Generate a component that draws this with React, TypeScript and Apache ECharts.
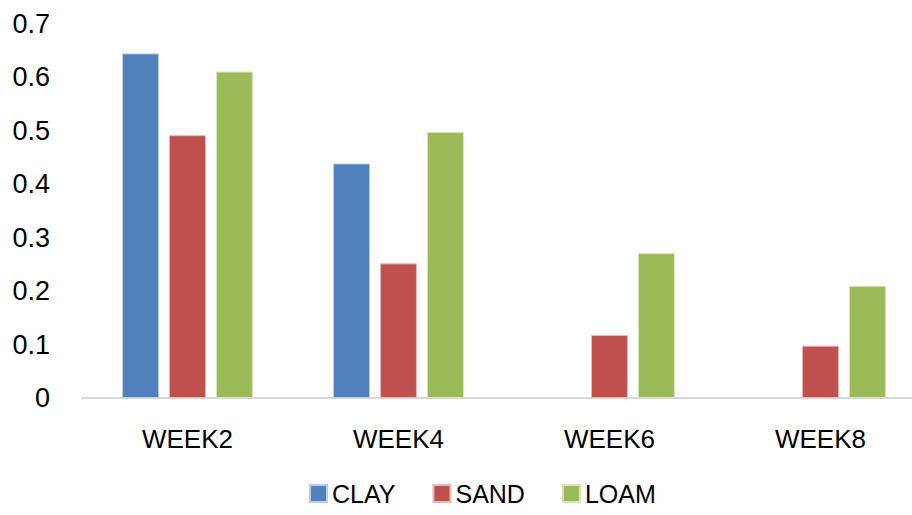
import React, { useEffect, useRef } from "react";
import * as echarts from "echarts";

const categories = ["WEEK2", "WEEK4", "WEEK6", "WEEK8"];
const clay = [0.645, 0.439, 0, 0];
const sand = [0.492, 0.252, 0.118, 0.098];
const loam = [0.611, 0.498, 0.271, 0.21];
const seriesNames = ["CLAY", "SAND", "LOAM"];
const colors = ["#4F81BD", "#C0504D", "#9BBB59"];
const borders = ["#B9CDE5", "#E6B9B8", "#D7E4BD"];

export default function App() {
  const ref = useRef<HTMLDivElement>(null);
  useEffect(() => {
    if (!ref.current) return;
    const chart = echarts.init(ref.current, null, { renderer: "svg" });
    const font = "'Liberation Sans', Arial, sans-serif";
    const data = [clay, sand, loam];
    chart.setOption({
      animation: false,
      textStyle: { fontFamily: font },
      grid: {
        left: 82,
        width: 844,
        top: 24,
        height: 374,
        containLabel: false,
        outerBoundsMode: "none",
      },
      legend: {
        bottom: 4,
        left: 304,
        itemWidth: 17,
        itemHeight: 17,
        itemGap: 37,
        icon: "rect",
        textStyle: { fontSize: 25, color: "#000", fontFamily: font },
        data: seriesNames,
      },
      xAxis: {
        type: "category",
        data: categories,
        axisLine: { lineStyle: { color: "#D9D9D9", width: 2 } },
        axisTick: { show: false },
        axisLabel: { fontSize: 26, color: "#000", margin: 28, fontFamily: font },
      },
      yAxis: {
        type: "value",
        min: 0,
        max: 0.7,
        interval: 0.1,
        axisLine: { show: false },
        axisTick: { show: false },
        splitLine: { show: false },
        axisLabel: { fontSize: 27, color: "#000", margin: 32, fontFamily: font },
      },
      series: seriesNames.map((name, i) => ({
        name,
        type: "bar",
        data: data[i].map((v) => (v === 0 ? { value: v, itemStyle: { borderWidth: 0 } } : v)),
        barGap: "27%",
        barCategoryGap: "38%",
        itemStyle: { color: colors[i], borderColor: borders[i], borderWidth: 1 },
      })),
    });
    return () => chart.dispose();
  }, []);
  return <div ref={ref} style={{ width: 912, height: 515, position: "absolute", left: 0, top: 0 }} />;
}
